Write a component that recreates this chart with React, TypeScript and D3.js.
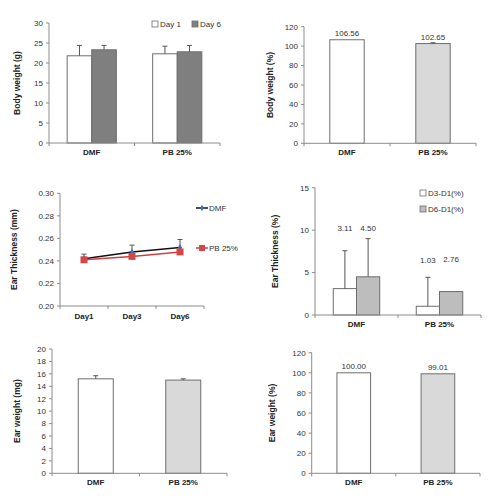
import React from "react";
import * as d3 from "d3";

const groups = ["DMF", "PB 25%"];

// Panel A: body weight (g)
const bwSeries = ["Day 1", "Day 6"];
const bwMean = [[21.8, 23.3], [22.3, 22.8]];
const bwErr = [[2.6, 1.1], [1.9, 1.6]];
const bwTicks = [0, 5, 10, 15, 20, 25, 30];

// Panel B: body weight (%)
const bwpMean = [106.56, 102.65];
const bwpErr = [0, 0.8];
const bwpLabels = ["106.56", "102.65"];
const bwpTicks = [0, 20, 40, 60, 80, 100, 120];

// Panel C: ear thickness (mm)
const days = ["Day1", "Day3", "Day6"];
const etDMF = [0.242, 0.248, 0.252];
const etDMFErr = [0.004, 0.006, 0.007];
const etPB = [0.241, 0.244, 0.248];
const etPBErr = [0.002, 0.002, 0.002];
const etTicks = [0.2, 0.22, 0.24, 0.26, 0.28, 0.3];

// Panel D: ear thickness (%)
const etpSeries = ["D3-D1(%)", "D6-D1(%)"];
const etpMean = [[3.11, 4.5], [1.03, 2.76]];
const etpErr = [[4.46, 4.5], [3.41, 0]];
const etpLabels = [["3.11", "4.50"], ["1.03", "2.76"]];
const etpLabelAt = [[9.4, 9.4], [5.6, 5.8]];
const etpTicks = [0, 5, 10, 15];

// Panel E: ear weight (mg)
const ewMean = [15.2, 15.0];
const ewErr = [0.5, 0.2];
const ewTicks = [0, 2, 4, 6, 8, 10, 12, 14, 16, 18, 20];

// Panel F: ear weight (%)
const ewpMean = [100.0, 99.01];
const ewpLabels = ["100.00", "99.01"];
const ewpTicks = [0, 20, 40, 60, 80, 100, 120];

const FONT = "'Liberation Sans', Arial, sans-serif";
const AX = "#8c8c8c";
const TXT = "#333";
const OUT = "#6e6e6e";
const GROUP_FILLS = ["#ffffff", "#d9d9d9"];

function YAxis({ y, x0, ticks, fmt, label, labelX }: any) {
  const [r0, r1] = y.range();
  return (
    <g>
      <line x1={x0} x2={x0} y1={r0} y2={r1} stroke={AX} strokeWidth={1} />
      {ticks.map((t: number) => (
        <g key={t}>
          <line x1={x0 - 3} x2={x0} y1={y(t)} y2={y(t)} stroke={AX} />
          <text x={x0 - 6} y={y(t)} dy="0.35em" textAnchor="end" fontSize={8} fill={TXT} fontFamily={FONT}>
            {fmt(t)}
          </text>
        </g>
      ))}
      <text
        transform={`translate(${labelX},${(r0 + r1) / 2}) rotate(-90)`}
        textAnchor="middle"
        fontSize={8.5}
        fontWeight="bold"
        fill="#222"
        fontFamily={FONT}
      >
        {label}
      </text>
    </g>
  );
}

function XAxisBand({ x, yBase, cats, labelDy = 12 }: any) {
  const [a, b] = x.range();
  const bounds = [a, ...cats.map((c: string) => x(c) + x.step())];
  return (
    <g>
      <line x1={a} x2={b} y1={yBase} y2={yBase} stroke={AX} />
      {bounds.map((bx: number, i: number) => (
        <line key={i} x1={bx} x2={bx} y1={yBase} y2={yBase + 3} stroke={AX} />
      ))}
      {cats.map((c: string) => (
        <text key={c} x={x(c) + x.bandwidth() / 2} y={yBase + labelDy} textAnchor="middle" fontSize={8} fontWeight="bold" fill="#222" fontFamily={FONT}>
          {c}
        </text>
      ))}
    </g>
  );
}

function ErrBar({ cx, yTop, yVal }: any) {
  return (
    <g stroke="#555" strokeWidth={1}>
      <line x1={cx} x2={cx} y1={yVal} y2={yTop} />
      <line x1={cx - 2.5} x2={cx + 2.5} y1={yTop} y2={yTop} />
    </g>
  );
}

function GroupedPanel({ x0, x1, yTop, yBot, domain, ticks, fmt, label, labelX, means, errs, fills, fillByGroup, frac, series, legendPos, valueLabels, labelAt }: any) {
  const x = d3.scaleBand().domain(groups).range([x0, x1]).padding(0);
  const y = d3.scaleLinear().domain(domain).range([yBot, yTop]);
  const nS = means[0].length;
  const inner = d3.scaleBand().domain(d3.range(nS).map(String)).range([0, x.bandwidth() * frac]).padding(0);
  const off = (x.bandwidth() * (1 - frac)) / 2;
  return (
    <g>
      {groups.map((g, gi) => (
        <g key={g}>
          {means[gi].map((v: number, si: number) => {
            const bx = (x(g) as number) + off + (inner(String(si)) as number);
            const bw = inner.bandwidth();
            return (
              <g key={si}>
                <rect x={bx} y={y(v)} width={bw} height={y(domain[0]) - y(v)} fill={fillByGroup ? fills[gi] : fills[si]} stroke={OUT} strokeWidth={1} />
                {errs && errs[gi][si] > 0 && <ErrBar cx={bx + bw / 2} yVal={y(v)} yTop={y(v + errs[gi][si])} />}
                {valueLabels && (
                  <text x={bx + bw / 2} y={y(labelAt ? labelAt[gi][si] : v) - 4} textAnchor="middle" fontSize={8} fill={TXT} fontFamily={FONT}>
                    {valueLabels[gi][si]}
                  </text>
                )}
              </g>
            );
          })}
        </g>
      ))}
      <YAxis y={y} x0={x0} ticks={ticks} fmt={fmt} label={label} labelX={labelX} />
      <XAxisBand x={x} yBase={yBot} cats={groups} />
      {series &&
        series.map((s: string, i: number) => (
          <g key={s} transform={`translate(${legendPos[i][0]},${legendPos[i][1]})`}>
            <rect x={0} y={-3} width={6} height={6} fill={fills[i]} stroke={OUT} strokeWidth={0.8} />
            <text x={8} y={0} dy="0.35em" fontSize={8} fill={TXT} fontFamily={FONT}>
              {s}
            </text>
          </g>
        ))}
    </g>
  );
}

function LinePanel() {
  const x0 = 60, x1 = 204, yTop = 193.3, yBot = 306;
  const x = d3.scaleBand().domain(days).range([x0, x1]).padding(0);
  const y = d3.scaleLinear().domain([0.2, 0.3]).range([yBot, yTop]);
  const cx = (d: string) => (x(d) as number) + x.bandwidth() / 2;
  const line = d3.line<number>().x((_, i) => cx(days[i])).y((v) => y(v));
  const [a, b] = x.range();
  const bounds = [a, ...days.map((c) => (x(c) as number) + x.step())];
  return (
    <g>
      <YAxis y={y} x0={x0} ticks={etTicks} fmt={d3.format(".2f")} label="Ear Thickness (mm)" labelX={17} />
      <line x1={a} x2={b} y1={yBot} y2={yBot} stroke={AX} />
      {bounds.map((bx, i) => (
        <line key={i} x1={bx} x2={bx} y1={yBot} y2={yBot + 3} stroke={AX} />
      ))}
      {days.map((d) => (
        <text key={d} x={cx(d)} y={yBot + 13} textAnchor="middle" fontSize={8} fontWeight="bold" fill="#222" fontFamily={FONT}>
          {d}
        </text>
      ))}
      {etDMF.map((v, i) => (
        <ErrBar key={"e1" + i} cx={cx(days[i])} yVal={y(v)} yTop={y(v + etDMFErr[i])} />
      ))}
      {etPB.map((v, i) => (
        <ErrBar key={"e2" + i} cx={cx(days[i])} yVal={y(v)} yTop={y(v + etPBErr[i])} />
      ))}
      <path d={line(etDMF) as string} fill="none" stroke="#111" strokeWidth={1.5} />
      <path d={line(etPB) as string} fill="none" stroke="#d04040" strokeWidth={1.5} />
      {etDMF.map((v, i) => (
        <path key={"m1" + i} d={d3.symbol(d3.symbolDiamond, 14)() as string} transform={`translate(${cx(days[i])},${y(v)})`} fill="#3a6fc0" />
      ))}
      {etPB.map((v, i) => (
        <rect key={"m2" + i} x={cx(days[i]) - 3.5} y={y(v) - 3.5} width={7} height={7} fill="#d04848" />
      ))}
      <g transform="translate(196,208)">
        <line x1={0} x2={12} y1={0} y2={0} stroke="#111" strokeWidth={1.5} />
        <path d={d3.symbol(d3.symbolDiamond, 12)() as string} transform="translate(6,0)" fill="#3a6fc0" />
        <text x={13} y={0} dy="0.35em" fontSize={8} fill={TXT} fontFamily={FONT}>DMF</text>
      </g>
      <g transform="translate(196,248)">
        <line x1={0} x2={12} y1={0} y2={0} stroke="#d04040" strokeWidth={1.5} />
        <rect x={3} y={-3} width={6} height={6} fill="#d04848" />
        <text x={13} y={0} dy="0.35em" fontSize={8} fill={TXT} fontFamily={FONT}>PB 25%</text>
      </g>
    </g>
  );
}

export default function App() {
  const f0 = d3.format("d");
  return (
    <svg width={493} height={502} style={{ position: "absolute", left: 0, top: 0, background: "#fff" }}>
      <rect width={493} height={502} fill="#fff" />
      <GroupedPanel
        x0={49} x1={220} yTop={23} yBot={143} domain={[0, 30]} ticks={bwTicks} fmt={f0}
        label="Body weight (g)" labelX={20}
        means={bwMean} errs={bwErr} fills={["#ffffff", "#7f7f7f"]} frac={0.575}
        series={bwSeries} legendPos={[[152, 24], [192, 24]]}
      />
      <GroupedPanel
        x0={304} x1={476} yTop={26.7} yBot={143.3} domain={[0, 120]} ticks={bwpTicks} fmt={f0}
        label="Body weight (%)" labelX={273}
        means={bwpMean.map((v) => [v])} errs={bwpErr.map((v) => [v])} fills={GROUP_FILLS} fillByGroup frac={0.4}
        valueLabels={bwpLabels.map((v) => [v])}
      />
      <LinePanel />
      <GroupedPanel
        x0={315} x1={481} yTop={187.7} yBot={315} domain={[0, 15]} ticks={etpTicks} fmt={f0}
        label="Ear Thickness (%)" labelX={278}
        means={etpMean} errs={etpErr} fills={["#ffffff", "#bdbdbd"]} frac={0.56}
        series={etpSeries} legendPos={[[420, 193], [420, 209]]}
        valueLabels={etpLabels} labelAt={etpLabelAt}
      />
      <GroupedPanel
        x0={52} x1={227} yTop={349} yBot={473.3} domain={[0, 20]} ticks={ewTicks} fmt={f0}
        label="Ear weight (mg)" labelX={20}
        means={ewMean.map((v) => [v])} errs={ewErr.map((v) => [v])} fills={GROUP_FILLS} fillByGroup frac={0.4}
      />
      <GroupedPanel
        x0={311.7} x1={480} yTop={352.7} yBot={473.3} domain={[0, 120]} ticks={ewpTicks} fmt={f0}
        label="Ear weight (%)" labelX={275}
        means={ewpMean.map((v) => [v])} errs={null} fills={GROUP_FILLS} fillByGroup frac={0.4}
        valueLabels={ewpLabels.map((v) => [v])}
      />
    </svg>
  );
}
